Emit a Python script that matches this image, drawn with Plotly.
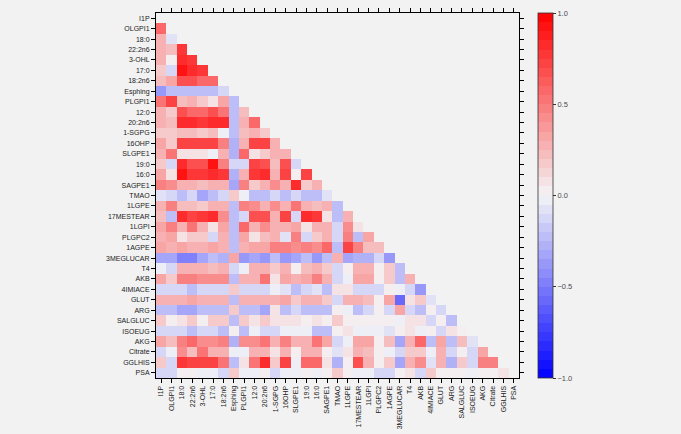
import plotly.graph_objects as go

labels = ["I1P", "OLGPI1", "18:0", "22:2n6", "3-OHL", "17:0", "18:2n6", "Esphing",
          "PLGPI1", "12:0", "20:2n6", "1-SGPG", "16OHP", "SLGPE1", "19:0", "16:0",
          "SAGPE1", "TMAO", "1LGPE", "17MESTEAR", "1LGPI", "PLGPC2", "1AGPE",
          "3MEGLUCAR", "T4", "AKB", "4IMIACE", "GLUT", "ARG", "SALGLUC", "ISOEUG",
          "AKG", "Citrate", "GGLHIS", "PSA"]

# lower-triangle correlations, row i holds columns 0..i-1
lower_rows = [
    [],
    [0.55],
    [0.25, -0.08],
    [0.3, 0.2, 0.75],
    [0.28, 0.05, 0.8, 0.75],
    [0.15, -0.1, 0.9, 0.8, 0.75],
    [0.2, 0.35, 0.65, 0.65, 0.55, 0.6],
    [-0.4, -0.2, -0.25, -0.25, -0.2, -0.2, -0.1],
    [0.5, 0.7, 0.2, 0.25, 0.15, 0.1, 0.35, -0.2],
    [0.25, 0.15, 0.65, 0.55, 0.6, 0.65, 0.5, -0.2, 0.2],
    [0.25, 0.2, 0.8, 0.8, 0.75, 0.8, 0.85, -0.2, 0.3, 0.6],
    [0.15, 0.15, 0.2, 0.2, 0.15, 0.2, -0.05, -0.25, 0.2, 0.25, 0.15],
    [0.35, 0.15, 0.7, 0.7, 0.7, 0.7, 0.45, -0.3, 0.3, 0.7, 0.7, 0.25],
    [0.3, 0.5, 0.08, 0.1, 0.1, -0.05, 0.3, -0.3, 0.55, 0.1, 0.15, 0.3, 0.3],
    [0.15, -0.15, 0.8, 0.65, 0.65, 0.9, 0.45, -0.15, -0.15, 0.7, 0.65, 0.2, 0.65, -0.1],
    [0.35, 0.08, 0.9, 0.75, 0.75, 0.85, 0.75, -0.3, 0.25, 0.75, 0.85, 0.25, 0.7, 0.05, 0.7],
    [0.45, 0.4, 0.3, 0.3, 0.2, 0.25, 0.3, -0.35, 0.45, 0.15, 0.3, 0.4, 0.3, 0.85, 0.15, 0.3],
    [-0.08, -0.1, -0.25, -0.15, -0.35, -0.2, -0.1, 0.15, -0.05, -0.2, -0.2, -0.1,
     -0.2, -0.15, -0.2, -0.2, -0.08],
    [0.3, 0.45, 0.2, 0.2, 0.15, 0.25, 0.25, -0.2, 0.45, 0.4, 0.3, 0.4,
     0.3, 0.5, 0.25, 0.2, 0.3, -0.2],
    [0.2, -0.2, 0.8, 0.7, 0.75, 0.85, 0.4, -0.25, -0.15, 0.65, 0.65, 0.25,
     0.7, -0.15, 0.85, 0.75, 0.1, -0.2, 0.25],
    [0.35, 0.45, 0.3, 0.5, 0.25, 0.1, 0.35, -0.2, 0.6, 0.25, 0.4, 0.3,
     0.25, 0.35, 0.1, 0.3, 0.25, -0.15, 0.4, 0.1],
    [0.3, 0.35, 0.08, 0.15, 0.15, -0.1, 0.3, -0.2, 0.35, 0.08, 0.2, 0.3,
     -0.08, 0.45, -0.1, 0.15, 0.25, -0.15, 0.45, -0.2, 0.35],
    [0.35, 0.25, 0.35, 0.3, 0.3, 0.35, 0.3, -0.25, 0.3, 0.35, 0.35, 0.45,
     0.45, 0.4, 0.45, 0.4, 0.55, -0.2, 0.7, 0.45, 0.2, 0.2],
    [-0.35, -0.35, -0.45, -0.45, -0.35, -0.25, -0.3, 0.35, -0.4, -0.35, -0.4, -0.2,
     -0.4, -0.35, -0.2, -0.4, -0.2, 0.3, -0.35, -0.3, -0.3, -0.15, -0.4],
    [-0.05, -0.15, 0.25, 0.25, 0.25, 0.2, 0.25, -0.1, -0.05, 0.25, 0.25, 0.15,
     0.25, 0.05, 0.2, 0.3, 0.15, -0.15, 0.05, 0.3, 0.3, 0.05, 0.15, -0.2],
    [0.35, 0.15, 0.45, 0.45, 0.4, 0.4, 0.4, -0.2, 0.3, 0.3, 0.5, 0.1,
     0.35, 0.3, 0.35, 0.45, 0.3, -0.15, -0.05, 0.35, 0.35, 0.05, 0.15, -0.25, 0.25],
    [-0.15, -0.15, -0.15, -0.2, -0.15, -0.15, -0.1, 0.15, -0.1, -0.1, -0.1, -0.05,
     -0.08, -0.2, -0.1, -0.08, -0.2, 0.1, 0.1, -0.1, -0.15, -0.1, 0.05, -0.05, -0.1, -0.4],
    [0.3, 0.25, 0.3, 0.35, 0.3, 0.25, 0.25, -0.2, 0.3, 0.3, 0.3, 0.25,
     0.35, 0.15, 0.3, 0.3, 0.15, -0.1, 0.3, 0.3, 0.2, 0.05, 0.35, -0.6, 0.1, 0.15, -0.08],
    [-0.2, -0.2, -0.35, -0.35, -0.2, -0.2, -0.25, 0.15, -0.2, -0.2, -0.35, 0.1,
     -0.25, -0.15, -0.25, -0.25, -0.2, 0.05, -0.05, -0.2, -0.1, 0.05, -0.1,
     0.35, -0.15, -0.25, 0.05, -0.15],
    [0.15, 0.05, 0.1, 0.15, 0.05, 0.15, 0.15, -0.2, 0.15, 0.1, 0.15, 0.08,
     0.1, 0.1, 0.05, 0.1, 0.05, 0.15, 0.05, 0.05, 0.05, 0.05, 0.05,
     -0.05, 0.1, 0.1, -0.1, 0.05, -0.25],
    [-0.15, -0.1, -0.15, -0.2, -0.15, -0.15, -0.2, 0.05, -0.2, -0.05, -0.1, -0.1,
     -0.05, -0.05, -0.05, -0.2, -0.2, 0.05, 0.1, -0.05, -0.05, -0.05, -0.08,
     0.05, 0.1, -0.05, 0.05, -0.15, 0.1, 0.05],
    [0.35, 0.2, 0.45, 0.6, 0.4, 0.4, 0.45, -0.3, 0.4, 0.4, 0.5, 0.25,
     0.45, 0.3, 0.3, 0.5, 0.35, -0.15, -0.05, 0.35, 0.35, 0.05, 0.2,
     -0.35, 0.25, 0.6, -0.25, 0.35, -0.25, 0.2, -0.08],
    [-0.1, -0.05, 0.4, 0.2, 0.5, 0.3, 0.3, -0.05, -0.05, 0.3, 0.3, 0.1,
     0.25, 0.05, 0.3, 0.3, 0.05, -0.08, 0.1, 0.3, 0.2, 0.05, -0.05,
     -0.15, 0.15, 0.15, -0.05, 0.25, -0.1, 0.05, -0.1, 0.35],
    [0.15, -0.1, 0.75, 0.7, 0.7, 0.7, 0.5, -0.2, 0.1, 0.5, 0.8, 0.15,
     0.7, -0.05, 0.6, 0.6, 0.1, -0.3, 0.05, 0.65, 0.3, 0.05, 0.15,
     -0.35, 0.3, 0.4, -0.08, 0.3, -0.3, 0.15, -0.15, 0.45, 0.45],
    [-0.15, -0.1, 0.05, 0.05, -0.05, -0.05, -0.1, 0.15, -0.05, -0.05, 0.05, -0.1,
     -0.05, -0.05, 0.05, -0.05, 0.05, 0.15, 0.05, -0.05, -0.05, -0.1, -0.1,
     0.05, 0.1, -0.1, 0.15, 0.05, 0.05, 0.05, -0.05, 0.05, 0.05, 0.1],
]

n = len(labels)
z = []
for i in range(n):
    row = list(lower_rows[i])[:i]
    row += [None] * (n - len(row))
    z.append(row)

# discrete blue-white-red colour scale, 40 steps
def mix(c1, c2, t):
    return tuple(round(a + (b - a) * t) for a, b in zip(c1, c2))

blue, mid, red = (0, 0, 255), (244, 244, 246), (255, 0, 0)
nbins = 40
colorscale = []
for b in range(nbins):
    v = -1 + (b + 0.5) * 2 / nbins
    c = mix(mid, red, v) if v >= 0 else mix(mid, blue, -v)
    col = "rgb(%d,%d,%d)" % c
    colorscale.append([b / nbins, col])
    colorscale.append([(b + 1) / nbins, col])

fig = go.Figure(go.Heatmap(
    z=z, x=labels, y=labels,
    zmin=-1, zmax=1,
    colorscale=colorscale,
    hoverongaps=False,
    colorbar=dict(
        x=1.0515, xanchor="left", xref="paper", xpad=0, ypad=0,
        y=0.5, yanchor="middle", len=1.0, lenmode="fraction",
        thickness=14.6, thicknessmode="pixels",
        outlinewidth=0.8, outlinecolor="#333333",
        tickvals=[-1, -0.5, 0, 0.5, 1],
        ticktext=["\u22121.0", "\u22120.5", "0.0", "0.5", "1.0"],
        ticks="outside", ticklen=3, tickwidth=0.8, tickcolor="#333333",
        tickfont=dict(family="Liberation Sans, Arial, sans-serif", size=7.5, color="#4d4d4d"),
    ),
))

axis_common = dict(
    type="category", automargin=False,
    showgrid=False, zeroline=False,
    showline=True, linecolor="black", linewidth=1, mirror="ticks",
    ticks="outside", ticklen=4, tickwidth=0.8, tickcolor="black",
    tickfont=dict(family="Liberation Sans, Arial, sans-serif", size=7, color="#222222"),
)

fig.update_xaxes(**axis_common, tickangle=-90, categoryorder="array", categoryarray=labels)
fig.update_yaxes(**axis_common, autorange="reversed", categoryorder="array", categoryarray=labels)

fig.update_layout(
    width=681, height=434,
    margin=dict(l=156, r=162, t=13, b=56, autoexpand=False),
    paper_bgcolor="#f2f2f2", plot_bgcolor="#f2f2f2",
    showlegend=False,
)

fig.write_html(
    "out.html",
    config={"displayModeBar": False},
    post_script="document.body.style.margin='0';document.body.style.backgroundColor='#f2f2f2';",
)
